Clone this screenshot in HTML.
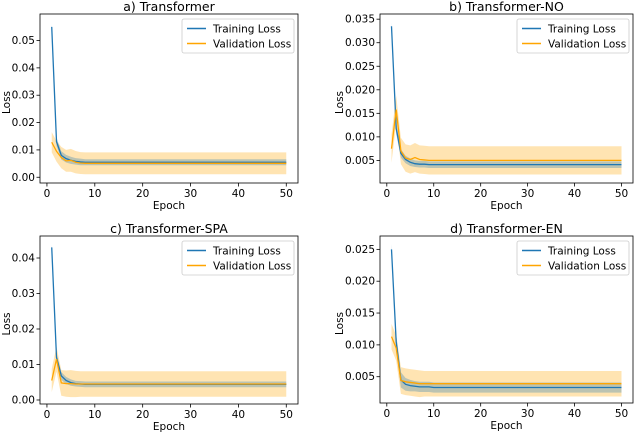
<!DOCTYPE html>
<html><head><meta charset="utf-8"><style>
body{margin:0;background:#fff;}
svg{display:block;font-family:"DejaVu Sans","Liberation Sans",sans-serif;}
</style></head><body>
<svg id="chart" width="640" height="432" viewBox="0 0 640 432" xmlns="http://www.w3.org/2000/svg"></svg>
<script>
const epochs = [1,2,3,4,5,6,7,8,9,10,11,12,13,14,15,16,17,18,19,20,21,22,23,24,25,26,27,28,29,30,31,32,33,34,35,36,37,38,39,40,41,42,43,44,45,46,47,48,49,50];
const xTicks = [0,10,20,30,40,50];
// a) Transformer
const aTrain = [0.055,0.013,0.008,0.0068,0.0062,0.0058,0.0056,0.0055,0.0055,0.0055,0.0055,0.0055,0.0055,0.0055,0.0055,0.0055,0.0055,0.0055,0.0055,0.0055,0.0055,0.0055,0.0055,0.0055,0.0055,0.0055,0.0055,0.0055,0.0055,0.0055,0.0055,0.0055,0.0055,0.0055,0.0055,0.0055,0.0055,0.0055,0.0055,0.0055,0.0055,0.0055,0.0055,0.0055,0.0055,0.0055,0.0055,0.0055,0.0055,0.0055];
const aTrainStd = [0.001,0.0015,0.0015,0.0014,0.0013,0.0012,0.0012,0.0011,0.0011,0.0011,0.0011,0.0011,0.0011,0.0011,0.0011,0.0011,0.0011,0.0011,0.0011,0.0011,0.0011,0.0011,0.0011,0.0011,0.0011,0.0011,0.0011,0.0011,0.0011,0.0011,0.0011,0.0011,0.0011,0.0011,0.0011,0.0011,0.0011,0.0011,0.0011,0.0011,0.0011,0.0011,0.0011,0.0011,0.0011,0.0011,0.0011,0.0011,0.0011,0.0011];
const aVal = [0.0128,0.0095,0.0072,0.006,0.0062,0.0055,0.0052,0.0051,0.0051,0.0051,0.0051,0.0051,0.0051,0.0051,0.0051,0.0051,0.0051,0.0051,0.0051,0.0051,0.0051,0.0051,0.0051,0.0051,0.0051,0.0051,0.0051,0.0051,0.0051,0.0051,0.0051,0.0051,0.0051,0.0051,0.0051,0.0051,0.0051,0.0051,0.0051,0.0051,0.0051,0.0051,0.0051,0.0051,0.0051,0.0051,0.0051,0.0051,0.0051,0.0051];
const aValStd = [0.0037,0.0038,0.0039,0.004,0.0042,0.0041,0.004,0.004,0.004,0.004,0.004,0.004,0.004,0.004,0.004,0.004,0.004,0.004,0.004,0.004,0.004,0.004,0.004,0.004,0.004,0.004,0.004,0.004,0.004,0.004,0.004,0.004,0.004,0.004,0.004,0.004,0.004,0.004,0.004,0.004,0.004,0.004,0.004,0.004,0.004,0.004,0.004,0.004,0.004,0.004];
// b) Transformer-NO
const bTrain = [0.0335,0.0118,0.0065,0.0052,0.0046,0.0043,0.0042,0.0042,0.0041,0.0041,0.0041,0.0041,0.0041,0.0041,0.0041,0.0041,0.0041,0.0041,0.0041,0.0041,0.0041,0.0041,0.0041,0.0041,0.0041,0.0041,0.0041,0.0041,0.0041,0.0041,0.0041,0.0041,0.0041,0.0041,0.0041,0.0041,0.0041,0.0041,0.0041,0.0041,0.0041,0.0041,0.0041,0.0041,0.0041,0.0041,0.0041,0.0041,0.0041,0.0041];
const bTrainStd = [0.0008,0.0012,0.0009,0.0008,0.0008,0.0007,0.0007,0.0007,0.0007,0.0007,0.0007,0.0007,0.0007,0.0007,0.0007,0.0007,0.0007,0.0007,0.0007,0.0007,0.0007,0.0007,0.0007,0.0007,0.0007,0.0007,0.0007,0.0007,0.0007,0.0007,0.0007,0.0007,0.0007,0.0007,0.0007,0.0007,0.0007,0.0007,0.0007,0.0007,0.0007,0.0007,0.0007,0.0007,0.0007,0.0007,0.0007,0.0007,0.0007,0.0007];
const bVal = [0.0075,0.0158,0.007,0.0055,0.0052,0.0056,0.0052,0.0051,0.005,0.005,0.005,0.005,0.005,0.005,0.005,0.005,0.005,0.005,0.005,0.005,0.005,0.005,0.005,0.005,0.005,0.005,0.005,0.005,0.005,0.005,0.005,0.005,0.005,0.005,0.005,0.005,0.005,0.005,0.005,0.005,0.005,0.005,0.005,0.005,0.005,0.005,0.005,0.005,0.005,0.005];
const bValStd = [0.003,0.003,0.0028,0.0029,0.003,0.0031,0.003,0.003,0.003,0.003,0.003,0.003,0.003,0.003,0.003,0.003,0.003,0.003,0.003,0.003,0.003,0.003,0.003,0.003,0.003,0.003,0.003,0.003,0.003,0.003,0.003,0.003,0.003,0.003,0.003,0.003,0.003,0.003,0.003,0.003,0.003,0.003,0.003,0.003,0.003,0.003,0.003,0.003,0.003,0.003];
// c) Transformer-SPA
const cTrain = [0.043,0.012,0.0068,0.0055,0.0049,0.0046,0.0045,0.0044,0.0044,0.0044,0.0044,0.0044,0.0044,0.0044,0.0044,0.0044,0.0044,0.0044,0.0044,0.0044,0.0044,0.0044,0.0044,0.0044,0.0044,0.0044,0.0044,0.0044,0.0044,0.0044,0.0044,0.0044,0.0044,0.0044,0.0044,0.0044,0.0044,0.0044,0.0044,0.0044,0.0044,0.0044,0.0044,0.0044,0.0044,0.0044,0.0044,0.0044,0.0044,0.0044];
const cTrainStd = [0.0008,0.0012,0.0011,0.001,0.0009,0.0008,0.0008,0.0008,0.0008,0.0008,0.0008,0.0008,0.0008,0.0008,0.0008,0.0008,0.0008,0.0008,0.0008,0.0008,0.0008,0.0008,0.0008,0.0008,0.0008,0.0008,0.0008,0.0008,0.0008,0.0008,0.0008,0.0008,0.0008,0.0008,0.0008,0.0008,0.0008,0.0008,0.0008,0.0008,0.0008,0.0008,0.0008,0.0008,0.0008,0.0008,0.0008,0.0008,0.0008,0.0008];
const cVal = [0.0055,0.0115,0.0048,0.0046,0.0046,0.0045,0.0045,0.0045,0.0045,0.0045,0.0045,0.0045,0.0045,0.0045,0.0045,0.0045,0.0045,0.0045,0.0045,0.0045,0.0045,0.0045,0.0045,0.0045,0.0045,0.0045,0.0045,0.0045,0.0045,0.0045,0.0045,0.0045,0.0045,0.0045,0.0045,0.0045,0.0045,0.0045,0.0045,0.0045,0.0045,0.0045,0.0045,0.0045,0.0045,0.0045,0.0045,0.0045,0.0045,0.0045];
const cValStd = [0.0033,0.0035,0.0036,0.0037,0.0038,0.0037,0.0036,0.0036,0.0036,0.0036,0.0036,0.0036,0.0036,0.0036,0.0036,0.0036,0.0036,0.0036,0.0036,0.0036,0.0036,0.0036,0.0036,0.0036,0.0036,0.0036,0.0036,0.0036,0.0036,0.0036,0.0036,0.0036,0.0036,0.0036,0.0036,0.0036,0.0036,0.0036,0.0036,0.0036,0.0036,0.0036,0.0036,0.0036,0.0036,0.0036,0.0036,0.0036,0.0036,0.0036];
// d) Transformer-EN
const dTrain = [0.025,0.0105,0.0045,0.0038,0.0036,0.0035,0.0034,0.0034,0.0034,0.0033,0.0033,0.0033,0.0033,0.0033,0.0033,0.0033,0.0033,0.0033,0.0033,0.0033,0.0033,0.0033,0.0033,0.0033,0.0033,0.0033,0.0033,0.0033,0.0033,0.0033,0.0033,0.0033,0.0033,0.0033,0.0033,0.0033,0.0033,0.0033,0.0033,0.0033,0.0033,0.0033,0.0033,0.0033,0.0033,0.0033,0.0033,0.0033,0.0033,0.0033];
const dTrainStd = [0.0008,0.0012,0.0012,0.001,0.0009,0.0008,0.0008,0.0008,0.0008,0.0008,0.0008,0.0008,0.0008,0.0008,0.0008,0.0008,0.0008,0.0008,0.0008,0.0008,0.0008,0.0008,0.0008,0.0008,0.0008,0.0008,0.0008,0.0008,0.0008,0.0008,0.0008,0.0008,0.0008,0.0008,0.0008,0.0008,0.0008,0.0008,0.0008,0.0008,0.0008,0.0008,0.0008,0.0008,0.0008,0.0008,0.0008,0.0008,0.0008,0.0008];
const dVal = [0.0113,0.0095,0.0044,0.0042,0.0041,0.004,0.0039,0.0039,0.0039,0.0039,0.0039,0.0039,0.0039,0.0039,0.0039,0.0039,0.0039,0.0039,0.0039,0.0039,0.0039,0.0039,0.0039,0.0039,0.0039,0.0039,0.0039,0.0039,0.0039,0.0039,0.0039,0.0039,0.0039,0.0039,0.0039,0.0039,0.0039,0.0039,0.0039,0.0039,0.0039,0.0039,0.0039,0.0039,0.0039,0.0039,0.0039,0.0039,0.0039,0.0039];
const dValStd = [0.002,0.002,0.0021,0.0021,0.0021,0.0021,0.0021,0.002,0.002,0.002,0.002,0.002,0.002,0.002,0.002,0.002,0.002,0.002,0.002,0.002,0.002,0.002,0.002,0.002,0.002,0.002,0.002,0.002,0.002,0.002,0.002,0.002,0.002,0.002,0.002,0.002,0.002,0.002,0.002,0.002,0.002,0.002,0.002,0.002,0.002,0.002,0.002,0.002,0.002,0.002];
const aYTicks = ["0.00","0.01","0.02","0.03","0.04","0.05"];
const bYTicks = ["0.005","0.010","0.015","0.020","0.025","0.030","0.035"];
const cYTicks = ["0.00","0.01","0.02","0.03","0.04"];
const dYTicks = ["0.005","0.010","0.015","0.020","0.025"];

const panels = [
 {id:'a',title:'a) Transformer',box:[40,14,298,183],ylim:[-0.0021,0.0597],ticks:aYTicks,tr:aTrain,ts:aTrainStd,v:aVal,vs:aValStd,lx:6},
 {id:'b',title:'b) Transformer-NO',box:[380,14,633,183],ylim:[0.0002,0.0361],ticks:bYTicks,tr:bTrain,ts:bTrainStd,v:bVal,vs:bValStd,lx:339},
 {id:'c',title:'c) Transformer-SPA',box:[40,236,298,404],ylim:[-0.00113,0.0462],ticks:cYTicks,tr:cTrain,ts:cTrainStd,v:cVal,vs:cValStd,lx:6},
 {id:'d',title:'d) Transformer-EN',box:[380,236,633,403],ylim:[0.00087,0.0271],ticks:dYTicks,tr:dTrain,ts:dTrainStd,v:dVal,vs:dValStd,lx:339}
];
const NS='http://www.w3.org/2000/svg';
const svg=document.getElementById('chart');
function mk(tag,attrs,parent,text){const e=document.createElementNS(NS,tag);for(const k in attrs)e.setAttribute(k,attrs[k]);if(text!==undefined)e.textContent=text;parent.appendChild(e);return e;}
panels.forEach(p=>{
 const [x0,y0,x1,y1]=p.box;
 const xs=e=>x0+(e+1.45)/(53.9)*(x1-x0);
 const ys=v=>y1-(v-p.ylim[0])/(p.ylim[1]-p.ylim[0])*(y1-y0);
 const g=mk('g',{},svg);
 
 
 const band=(m,s,col,name)=>{
  let d='';epochs.forEach((e,i)=>{d+=(i?'L':'M')+xs(e).toFixed(2)+','+ys(m[i]+s[i]).toFixed(2);});
  for(let i=epochs.length-1;i>=0;i--)d+='L'+xs(epochs[i]).toFixed(2)+','+ys(m[i]-s[i]).toFixed(2);
  const el=mk('path',{d:d+'Z',fill:col,'fill-opacity':0.3,stroke:'none'},g);
  
  
 };
 const line=(m,col,name)=>{
  const el=mk('polyline',{points:epochs.map((e,i)=>xs(e).toFixed(2)+','+ys(m[i]).toFixed(2)).join(' '),fill:'none',stroke:col,'stroke-width':1.3},g);
  
  
 };
 band(p.v,p.vs,'#ffa500','validation-band');
 band(p.tr,p.ts,'#1f77b4','training-band');
 line(p.tr,'#1f77b4','training-line');
 line(p.v,'#ffa500','validation-line');
 const fr=mk('rect',{x:x0,y:y0,width:x1-x0,height:y1-y0,fill:'none',stroke:'#000','stroke-width':0.8},g);
 
 
 xTicks.forEach(t=>{const x=xs(t);mk('line',{x1:x,x2:x,y1:y1,y2:y1+3.5,stroke:'#000','stroke-width':0.8},g);
  const tx=mk('text',{x:x,y:y1+14,'font-size':10.5,'text-anchor':'middle',fill:'#000'},g,String(t));
  
  });
 p.ticks.forEach(t=>{const y=ys(parseFloat(t));mk('line',{x1:x0-3.5,x2:x0,y1:y,y2:y,stroke:'#000','stroke-width':0.8},g);
  const tx=mk('text',{x:x0-5,y:y+3.5,'font-size':10.5,'text-anchor':'end',fill:'#000'},g,t);
  
  });
 const ti=mk('text',{x:(x0+x1)/2,y:y0-3,'font-size':12.5,'text-anchor':'middle',fill:'#000'},g,p.title);
 
 
 const xl=mk('text',{x:(x0+x1)/2,y:y1+26,'font-size':10.5,'text-anchor':'middle',fill:'#000'},g,'Epoch');
 
 
 const cy=(y0+y1)/2;
 const yl=mk('text',{x:p.lx,y:cy,'font-size':10.5,'text-anchor':'middle',transform:'rotate(-90 '+(p.lx+4)+' '+cy+')',fill:'#000'},g,'Loss');
 
 
 const lg=mk('g',{},g);
 
 
 const lx=x1-116,ly=y0+5;
 mk('rect',{x:lx,y:ly,width:112,height:34,rx:2,fill:'#fff','fill-opacity':0.8,stroke:'#ccc','stroke-width':0.8},lg);
 mk('line',{x1:lx+5,x2:lx+24,y1:ly+9.5,y2:ly+9.5,stroke:'#1f77b4','stroke-width':1.5},lg);
 mk('line',{x1:lx+5,x2:lx+24,y1:ly+24.5,y2:ly+24.5,stroke:'#ffa500','stroke-width':1.5},lg);
 const t1=mk('text',{x:lx+31,y:ly+13.5,'font-size':10.5,fill:'#000'},lg,'Training Loss');
 
 
 const t2=mk('text',{x:lx+31,y:ly+28.5,'font-size':10.5,fill:'#000'},lg,'Validation Loss');
 
 
});
</script>
</body></html>
